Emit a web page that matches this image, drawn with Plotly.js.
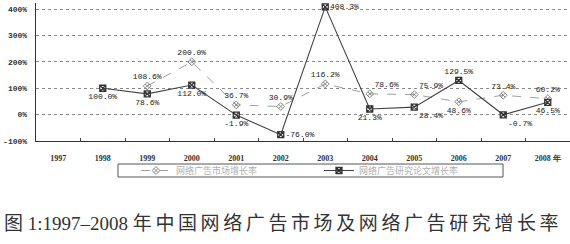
<!DOCTYPE html>
<html>
<head>
<meta charset="utf-8">
<script src="https://cdn.plot.ly/plotly-3.0.1.min.js"></script>
<style>html,body{margin:0;padding:0;background:#fff;}</style>
</head>
<body>
<div id="chart" style="width:570px;height:244px;"></div>
<script>
// ---- data ----
const years = ["1997","1998","1999","2000","2001","2002","2003","2004","2005","2006","2007","2008"];
const yearLabels = ["1997","1998","1999","2000","2001","2002","2003","2004","2005","2006","2007","2008 年"];

const marketName = "网络广告市场增长率";
const marketYears = ["1999","2000","2001","2002","2003","2004","2005","2006","2007","2008"];
const marketGrowth = [108.6, 200.0, 36.7, 30.9, 116.2, 78.6, 75.9, 48.6, 73.4, 60.2];

const researchName = "网络广告研究论文增长率";
const researchYears = ["1998","1999","2000","2001","2002","2003","2004","2005","2006","2007","2008"];
const researchGrowth = [100.0, 78.6, 112.0, -1.9, -76.0, 408.3, 21.3, 28.4, 129.5, -0.7, 46.5];

const yTicks = [-100, 0, 100, 200, 300, 400];
const titleText = '图 1:1997–2008 <span style="letter-spacing:3.6px">年中国网络广告市场及网络广告研究增长率</span>';

// ---- styling / layout ----
const W = 570, H = 244, L = 36, R = 0, T = 3, B = 103;
const pw = W - L - R, ph = H - T - B;
const px = x => (x - L) / pw;
const py = y => (H - B - y) / ph;
const pct = v => v.toFixed(1) + '%';
const labelFont = {family: 'Liberation Mono, monospace', size: 8, color: '#222'};

const marketPos = ['top center','top center','top center','top center','top center','top right','top right','bottom center','top center','top center'];
const researchPos = ['bottom center','bottom center','bottom center','bottom center','middle right','middle right','bottom center','bottom right','top center','bottom right','bottom center'];

const traces = [
  {
    name: marketName, x: marketYears, y: marketGrowth, type: 'scatter',
    mode: 'lines+markers+text', text: marketGrowth.map(pct), textposition: marketPos,
    textfont: labelFont, cliponaxis: false,
    line: {color: '#a0a0a0', width: 1, dash: 'dash'},
    marker: {symbol: 'diamond-x-open', size: 6, color: '#888', line: {width: 1}}
  },
  {
    name: researchName, x: researchYears, y: researchGrowth, type: 'scatter',
    mode: 'lines+markers+text', text: researchGrowth.map(pct), textposition: researchPos,
    textfont: labelFont, cliponaxis: false,
    line: {color: '#444', width: 1.1},
    marker: {symbol: 'square-x-open', size: 6, color: '#333', line: {width: 1.3}}
  }
];

const layout = {
  width: W, height: H,
  margin: {l: L, r: R, t: T, b: B, pad: 0},
  paper_bgcolor: '#fff', plot_bgcolor: '#fff',
  showlegend: true,
  legend: {
    orientation: 'h', x: px(136), xanchor: 'left', y: py(156), yanchor: 'top',
    font: {family: 'Noto Sans CJK SC', size: 9, color: '#b0b0b0'},
    bgcolor: 'rgba(0,0,0,0)', borderwidth: 0,
    entrywidth: 138, entrywidthmode: 'pixels'
  },
  xaxis: {
    type: 'category', categoryorder: 'array', categoryarray: years,
    tickvals: years, ticktext: yearLabels,
    range: [-0.5, 11.5], showgrid: false, zeroline: false,
    showline: true, linecolor: '#333', linewidth: 1.3,
    ticks: 'inside', tickson: 'boundaries', ticklen: 3, tickcolor: '#444',
    tickfont: {family: 'Liberation Serif, serif', size: 8, color: '#333', weight: 'bold'},
    ticklabelstandoff: 9
  },
  yaxis: {
    range: [-100, 423], tickvals: yTicks, ticktext: yTicks.map(v => v + '%'),
    showgrid: true, gridcolor: '#888', griddash: 'dot', gridwidth: 1,
    zeroline: false, showline: true, linecolor: '#333', linewidth: 1.3,
    ticks: '', tickfont: {family: 'Liberation Mono, monospace', size: 8, color: '#333', weight: 'bold'},
    ticklabelstandoff: 6
  },
  shapes: [
    {type: 'rect', xref: 'paper', yref: 'paper', x0: px(118), x1: px(503), y0: py(164), y1: py(177),
     line: {color: '#555', width: 1}, fillcolor: 'rgba(0,0,0,0)'}
  ],
  annotations: [
    {text: titleText, xref: 'paper', yref: 'paper', x: px(2), y: py(223), xanchor: 'left', yanchor: 'middle',
     showarrow: false, font: {family: 'Liberation Serif, Noto Sans CJK SC', size: 19, color: '#333'}}
  ]
};

Plotly.newPlot('chart', traces, layout, {staticPlot: true, displayModeBar: false});
</script>
</body>
</html>
